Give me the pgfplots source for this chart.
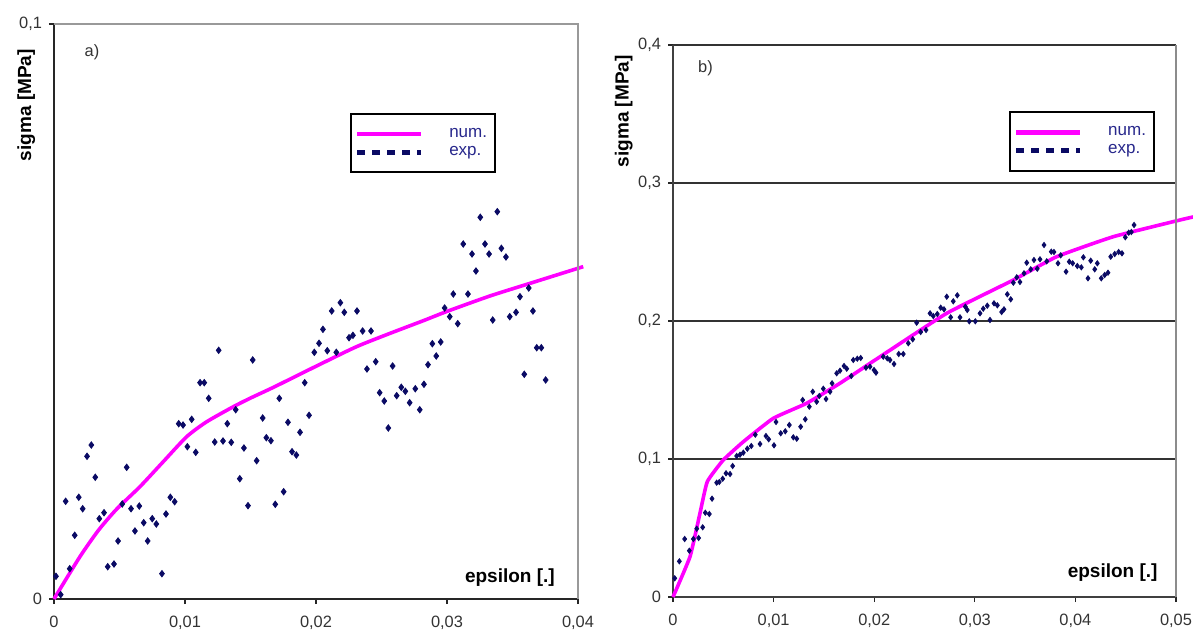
\documentclass[border=0pt]{standalone}
\usepackage{fontspec}
\setmainfont{Liberation Sans}
\usepackage{pgfplots}
\pgfplotsset{compat=1.18}
\definecolor{dotblue}{RGB}{10,10,100}
\definecolor{curvemag}{RGB}{255,0,255}
\definecolor{legtext}{RGB}{40,40,140}

\pgfplotsset{
  stressplot/.style={
    scale only axis,
    axis lines=left,
    axis line style={-, black!85, line width=0.6pt},
    tick align=outside,
    major tick length=2.5pt,
    tick style={black!85, line width=0.6pt},
    tick label style={font=\fontsize{8.2}{9}\selectfont, text=black!80},
    xticklabel style={yshift=-2.5pt},
    scaled ticks=false,
    enlargelimits=false,
    clip=false,
    legend style={draw=black, line width=1pt, fill=white,
      font=\fontsize{8.5}{9.5}\selectfont, text=legtext,
      inner xsep=2pt, inner ysep=5pt, row sep=-1pt},
    legend cell align=left,
  },
  numcurve/.style={curvemag, line width=1.8pt, no marks, smooth, tension=0.4},
  expdots/.style={only marks, mark=diamond*, mark size=1.6pt,
    mark options={draw=dotblue, fill=dotblue}},
  numlegend/.style={legend image code/.code={
    \draw[curvemag, line width=2.2pt, solid] (0pt,0pt) -- (32pt,0pt);
    \path[draw=none, fill=none] (0pt,0pt) -- (44pt,0pt);}},
  explegend/.style={legend image code/.code={
    \draw[dotblue, line width=2.2pt, dash pattern=on 4pt off 3.5pt] (0pt,0pt) -- (32pt,0pt);
    \path[draw=none, fill=none] (0pt,0pt) -- (44pt,0pt);}},
}

\begin{document}
\begin{tikzpicture}
\useasboundingbox (0,0) rectangle (596.5pt,316pt);

% ---------- a) ----------
\begin{axis}[stressplot,
  at={(27pt,16.5pt)}, anchor=south west,
  width=262pt, height=287.5pt,
  xmin=0, xmax=0.04, ymin=0, ymax=0.1,
  xtick={0,0.01,0.02,0.03,0.04},
  xticklabels={0,{0,01},{0,02},{0,03},{0,04}},
  ytick={0,0.1}, yticklabels={0,{0,1}},
  legend style={at={(rel axis cs:0.565,0.845)}, anchor=north west},
]
\addplot[expdots, forget plot] table {
0.00015 0.00395
0.00051 0.00075
0.00089 0.01699
0.0012 0.00527
0.00158 0.01108
0.00189 0.01769
0.00219 0.0157
0.00252 0.02482
0.00285 0.02678
0.00315 0.02117
0.00346 0.01397
0.00382 0.01501
0.0041 0.00562
0.00458 0.00609
0.00489 0.01009
0.00521 0.01652
0.00555 0.0229
0.00588 0.0157
0.00618 0.01183
0.00651 0.01617
0.00685 0.01327
0.00715 0.01009
0.0075 0.01397
0.00781 0.01304
0.00824 0.0044
0.00855 0.01478
0.00888 0.01769
0.00921 0.01692
0.00952 0.03049
0.00985 0.03026
0.01018 0.02649
0.01051 0.03125
0.01082 0.02551
0.01115 0.03762
0.01147 0.03762
0.01181 0.0349
0.01227 0.0273
0.01257 0.04325
0.0129 0.02748
0.01323 0.03049
0.01353 0.02725
0.01387 0.03292
0.01418 0.02092
0.0145 0.02626
0.01481 0.01623
0.01517 0.04157
0.01547 0.02405
0.01593 0.03148
0.01621 0.02805
0.01656 0.02753
0.01689 0.01647
0.0172 0.0349
0.01753 0.01866
0.01786 0.03073
0.01817 0.02562
0.0185 0.02504
0.01878 0.02899
0.01914 0.03762
0.01947 0.03195
0.01987 0.0429
0.02023 0.04447
0.02053 0.0469
0.02086 0.04318
0.0212 0.05009
0.02155 0.0429
0.02186 0.05153
0.02216 0.04986
0.02252 0.04544
0.02282 0.04586
0.02313 0.05009
0.02356 0.04661
0.02389 0.04
0.0242 0.04661
0.02456 0.04127
0.02486 0.03588
0.02521 0.03443
0.02552 0.02974
0.02585 0.04052
0.02616 0.03536
0.02651 0.03682
0.02682 0.03612
0.02715 0.03414
0.02758 0.03657
0.02792 0.03292
0.02824 0.03734
0.02855 0.04075
0.02888 0.0444
0.02918 0.04226
0.02952 0.0447
0.02982 0.05061
0.03021 0.0491
0.03048 0.05304
0.03082 0.04788
0.03124 0.06174
0.0316 0.05304
0.03191 0.06
0.03221 0.05704
0.03254 0.06638
0.0329 0.06174
0.03321 0.06
0.03349 0.04852
0.03384 0.06736
0.03415 0.06099
0.0345 0.05948
0.03479 0.0491
0.03527 0.04986
0.03557 0.05257
0.0359 0.03908
0.03624 0.05409
0.03656 0.05009
0.03685 0.0437
0.0372 0.0437
0.03753 0.03809
};
\addplot[numcurve, numlegend] table {
0 0
0.00198 0.00736
0.00341 0.0120
0.00479 0.01565
0.00656 0.01953
0.00834 0.02388
0.01013 0.02823
0.01166 0.03083
0.01369 0.03344
0.01496 0.0349
0.01674 0.0368
0.01878 0.0391
0.02056 0.0411
0.02311 0.0439
0.02565 0.0462
0.02819 0.0484
0.02998 0.0500
0.03328 0.0527
0.03634 0.0549
0.0404 0.0578
};
\addlegendentry{num.}
\addlegendimage{explegend}
\addlegendentry{exp.}
\draw[black!40, line width=0.8pt] (rel axis cs:0,1) -- (rel axis cs:1,1) -- (rel axis cs:1,0);
\node[font=\fontsize{8.2}{9}\selectfont, text=black!80, anchor=west] at (rel axis cs:0.045,0.95) {a)};
\node[font=\bfseries\fontsize{9.5}{11}\selectfont] at (rel axis cs:0.87,0.038) {epsilon [.]};
\node[font=\bfseries\fontsize{9.5}{11}\selectfont, rotate=90] at (rel axis cs:-0.053,0.859) {sigma [MPa]};
\end{axis}

% ---------- b) ----------
\begin{axis}[stressplot,
  at={(336.5pt,17.5pt)}, anchor=south west,
  width=251.5pt, height=276pt,
  xmin=0, xmax=0.05, ymin=0, ymax=0.4,
  xtick={0,0.01,0.02,0.03,0.04,0.05},
  xticklabels={0,{0,01},{0,02},{0,03},{0,04},{0,05}},
  ytick={0,0.1,0.2,0.3,0.4},
  yticklabels={0,{0,1},{0,2},{0,3},{0,4}},
  ymajorgrids, grid style={black!80, line width=0.6pt},
  axis line style={-, black!75, line width=0.6pt},
  legend style={at={(rel axis cs:0.668,0.88)}, anchor=north west},
  expdots/.append style={mark size=1.3pt},
]
\addplot[expdots, forget plot] table {
0.00017 0.01355
0.00063 0.02587
0.00116 0.04203
0.00162 0.03355
0.00202 0.04203
0.00236 0.04949
0.00255 0.04275
0.00295 0.05051
0.00321 0.06109
0.00361 0.06014
0.00388 0.07123
0.00434 0.08283
0.0046 0.08333
0.00494 0.08572
0.00527 0.08964
0.00567 0.08913
0.00593 0.09493
0.00633 0.10217
0.00666 0.10312
0.00699 0.10457
0.00739 0.10746
0.00778 0.10942
0.00818 0.11761
0.00865 0.11087
0.00924 0.11667
0.00951 0.11428
0.01004 0.10993
0.01024 0.12681
0.01071 0.11862
0.01116 0.12007
0.01156 0.12464
0.01196 0.11572
0.0123 0.11471
0.01269 0.1234
0.01289 0.14275
0.01315 0.12877
0.01355 0.1379
0.01389 0.14877
0.01428 0.14152
0.01454 0.14565
0.01494 0.15094
0.01521 0.14348
0.01561 0.14877
0.01581 0.15486
0.01627 0.1621
0.0166 0.16399
0.0170 0.16739
0.01727 0.16543
0.01772 0.16014
0.01792 0.17174
0.01832 0.17268
0.01866 0.17319
0.01918 0.16616
0.01958 0.16688
0.01998 0.16449
0.02018 0.16254
0.0209 0.17413
0.0213 0.17297
0.02157 0.17174
0.02197 0.16884
0.02244 0.17609
0.02289 0.17609
0.02339 0.18384
0.02383 0.18674
0.02422 0.19877
0.02462 0.19203
0.02515 0.19348
0.02555 0.20558
0.02587 0.20362
0.02627 0.20507
0.02661 0.20964
0.02694 0.20848
0.02721 0.21761
0.0276 0.20268
0.02786 0.21428
0.02826 0.21862
0.02853 0.20268
0.02906 0.21036
0.02925 0.20797
0.02945 0.19978
0.03005 0.19978
0.03052 0.20558
0.03084 0.20891
0.03124 0.21109
0.03151 0.20072
0.03191 0.21283
0.03224 0.21138
0.03267 0.20652
0.0329 0.20848
0.03323 0.21935
0.03357 0.21572
0.03383 0.22775
0.03417 0.23167
0.03449 0.22826
0.03489 0.23457
0.03516 0.24225
0.03556 0.23746
0.03588 0.2442
0.03621 0.2379
0.03648 0.24471
0.03688 0.25507
0.03715 0.24326
0.0376 0.25022
0.03787 0.25
0.03827 0.24181
0.03854 0.24761
0.03907 0.23572
0.03939 0.24297
0.03973 0.24181
0.04019 0.23986
0.04059 0.23891
0.04079 0.24616
0.04125 0.23094
0.04152 0.2437
0.04192 0.23746
0.04218 0.24181
0.04257 0.23094
0.04291 0.23333
0.04324 0.235
0.04351 0.24659
0.04391 0.24855
0.0443 0.25
0.04463 0.24906
0.04496 0.26065
0.0453 0.26399
0.04556 0.26449
0.04583 0.26957
};
\addplot[numcurve, numlegend, tension=0.25] table {
0 0
0.00169 0.0292
0.00268 0.0607
0.00341 0.0836
0.005 0.0993
0.00699 0.1125
0.00997 0.1295
0.01329 0.1404
0.0166 0.1549
0.02058 0.1741
0.02721 0.2056
0.03383 0.2297
0.03814 0.2466
0.04377 0.2611
0.0504 0.2732
0.0517 0.2754
};
\addlegendentry{num.}
\addlegendimage{explegend}
\addlegendentry{exp.}
\draw[black!45, line width=0.8pt] (rel axis cs:1,1) -- (rel axis cs:1,0);
\node[font=\fontsize{8.2}{9}\selectfont, text=black!80, anchor=west] at (rel axis cs:0.036,0.957) {b)};
\node[font=\bfseries\fontsize{9.5}{11}\selectfont] at (rel axis cs:0.874,0.045) {epsilon [.]};
\node[font=\bfseries\fontsize{9.5}{11}\selectfont, rotate=90] at (rel axis cs:-0.098,0.88) {sigma [MPa]};
\end{axis}
\end{tikzpicture}
\end{document}
